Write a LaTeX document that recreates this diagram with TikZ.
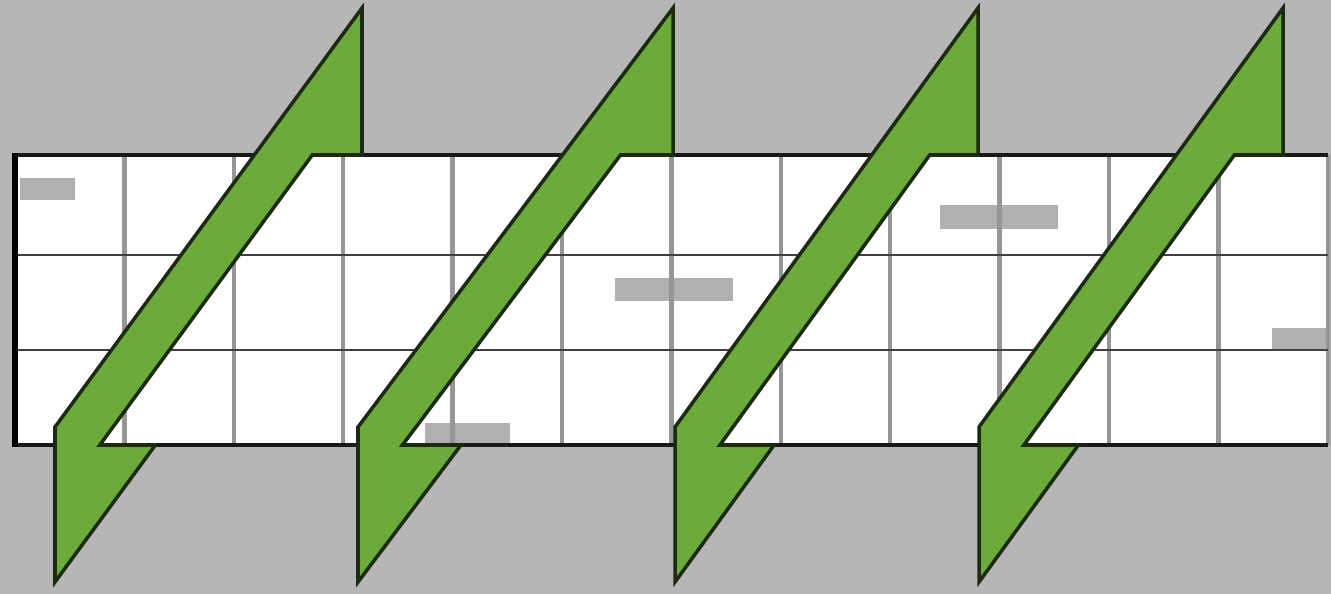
\documentclass[tikz,border=0pt]{standalone}
\definecolor{fondo}{RGB}{182,182,182}
\definecolor{etiqueta}{RGB}{176,176,176}
\definecolor{rejilla}{RGB}{150,150,150}
\definecolor{verde}{RGB}{108,170,58}
\definecolor{bordeverde}{RGB}{28,42,18}

\begin{document}
\begin{tikzpicture}[x=0.02cm, y=-0.02cm]
    % Fondo y franja blanca
    \fill[fondo] (0,0) rectangle (1331,594);
    \fill[white] (15,155) rectangle (1328,445);

    % Marcas grises (texto borrado)
    \foreach \xa/\ya/\xb/\yb in {20/178/75/200, 615/278/733/301, 425/423/510/444, 940/205/1058/229, 1272/328/1328/351}{
        \fill[etiqueta] (\xa,\ya) rectangle (\xb,\yb);
    }

    % Columnas de la rejilla
    \foreach \k in {1,...,12}{
        \pgfmathsetmacro{\xk}{15+109.4*\k}
        \draw[rejilla, line width=2.6pt] (\xk,155) -- (\xk,445);
    }
    % Filas y bordes
    \foreach \yf in {255,350}{
        \draw[black!75, line width=1.6pt] (15,\yf) -- (1328,\yf);
    }
    \draw[black!90, line width=2.2pt] (15,155) -- (1328,155);
    \draw[black!90, line width=2.2pt] (15,445) -- (1328,445);
    \draw[black, line width=3.2pt] (15,153) -- (15,447);

    % Flechas en zigzag: base inferior \b, punta superior \t
    \foreach \b/\t in {55/362, 358/673, 675/978, 979/1283}{
        \pgfmathsetmacro{\s}{419/(\t-\b)}
        \pgfmathsetmacro{\xl}{\t-147/\s}
        \pgfmathsetmacro{\xr}{\xl+58}
        \pgfmathsetmacro{\xrb}{\xr-290/\s}
        \pgfmathsetmacro{\xf}{\b+137/\s}
        \filldraw[fill=verde, draw=bordeverde, line width=2pt]
            (\t,8) -- (\b,427) -- (\b,582) -- (\xf,445) -- (\xrb,445)
            -- (\xr,155) -- (\t,155) -- cycle;
    }
\end{tikzpicture}
\end{document}
